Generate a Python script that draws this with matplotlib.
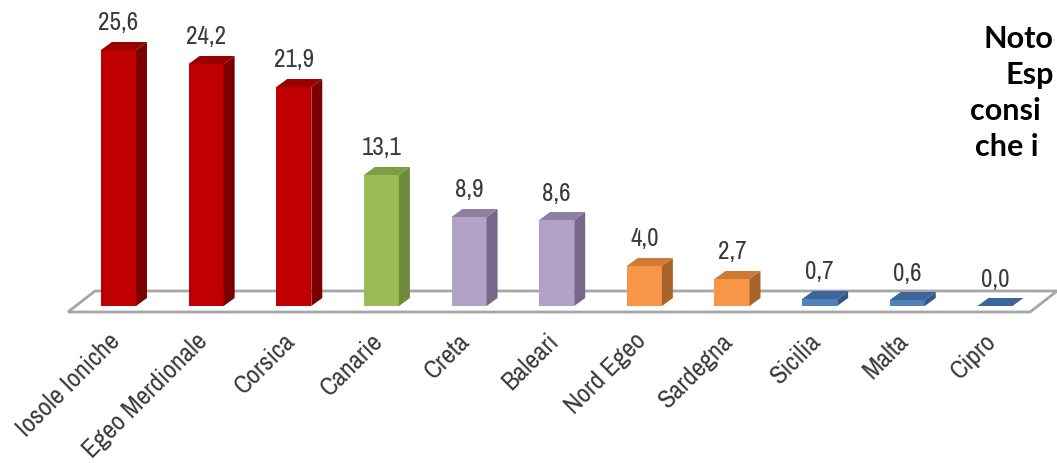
import matplotlib
matplotlib.use("Agg")
import matplotlib.pyplot as plt
from matplotlib.patches import Polygon
from matplotlib import font_manager

# data
islands = ["Iosole Ioniche", "Egeo Merdionale", "Corsica", "Canarie", "Creta",
           "Baleari", "Nord Egeo", "Sardegna", "Sicilia", "Malta", "Cipro"]
values = [25.6, 24.2, 21.9, 13.1, 8.9, 8.6, 4.0, 2.7, 0.7, 0.6, 0.0]
value_labels = ["25,6", "24,2", "21,9", "13,1", "8,9", "8,6", "4,0", "2,7", "0,7", "0,6", "0,0"]
groups = ["red", "red", "red", "green", "lilac", "lilac", "orange", "orange", "blue", "blue", "blue"]
side_note = ["Noto", "Esp", "consi", "che i"]

# front / side / top colours per group
colors = {
    "red": ("#C00000", "#7A0000", "#9A0000"),
    "green": ("#9BBB59", "#6E8A3A", "#7E9E46"),
    "lilac": ("#B3A2C7", "#75688A", "#8E7FA3"),
    "orange": ("#F79646", "#A9642A", "#D07A34"),
    "blue": ("#4F81BD", "#33598A", "#3C6599"),
}

# pick a regular condensed face (Arial Narrow look-alike)
cond = [f for f in font_manager.fontManager.ttflist
        if ("Condensed" in f.fname or "Narrow" in f.fname)
        and f.style == "normal" and f.weight in (400, "normal", "regular", "book")
        and "Bold" not in f.fname and "Oblique" not in f.fname and "Italic" not in f.fname]
cond.sort(key=lambda f: ("Narrow" not in f.fname, "DejaVuSansCondensed" not in f.fname, f.fname))
if cond:
    val_fp = font_manager.FontProperties(fname=cond[0].fname, size=18)
    cat_fp = font_manager.FontProperties(fname=cond[0].fname, size=19)
else:
    val_fp = font_manager.FontProperties(family="DejaVu Sans", size=14)
    cat_fp = font_manager.FontProperties(family="DejaVu Sans", size=14)

txt_col = "#3A3A3A"

W = 0.40    # bar width (category units)
DX = 0.125  # depth offset, x
DY = 0.8    # depth offset, y

fig = plt.figure(figsize=(10.57, 4.64), dpi=100)
ax = fig.add_axes([0, 0, 1, 1])
ax.set_xlim(-1.352, 10.708)
ax.set_ylim(-15.7, 30.7)
ax.axis("off")

# floor
n = len(values)
floor = [(-0.576, -0.6), (n - 0.6, -0.6), (n - 0.6 + 0.31, 1.5), (-0.268, 1.5)]
ax.add_patch(Polygon(floor, closed=True, facecolor="white", edgecolor="#A6A6A6", lw=2, zorder=1))

for i, (v, g) in enumerate(zip(values, groups)):
    front, side, top = colors[g]
    x0, x1 = i - W / 2, i + W / 2
    if v > 0:
        ax.add_patch(Polygon([(x0, 0), (x1, 0), (x1, v), (x0, v)], facecolor=front, edgecolor="none", zorder=3))
        ax.add_patch(Polygon([(x1, 0), (x1 + DX, DY), (x1 + DX, v + DY), (x1, v)], facecolor=side, edgecolor="none", zorder=3))
    ax.add_patch(Polygon([(x0, v), (x1, v), (x1 + DX, v + DY), (x0 + DX, v + DY)], facecolor=top, edgecolor="none", zorder=3))

    ax.text(i, v + 2.8, value_labels[i], ha="center", va="center", fontproperties=val_fp, color=txt_col)
    ax.text(i - 0.03, -3.0, islands[i], ha="right", va="center", rotation=45,
            rotation_mode="anchor", fontproperties=cat_fp, color=txt_col)

# note on the right, cut by the edge as in the source slide
note_x = [984, 1006, 970, 975]
for k, line in enumerate(side_note):
    fig.text(note_x[k] / 1057, 1 - (48 + 36 * k) / 464, line, ha="left", va="baseline",
             fontsize=22, fontweight="bold", family=["Lato", "DejaVu Sans"], color="black")

fig.savefig("out.png", dpi=100)
